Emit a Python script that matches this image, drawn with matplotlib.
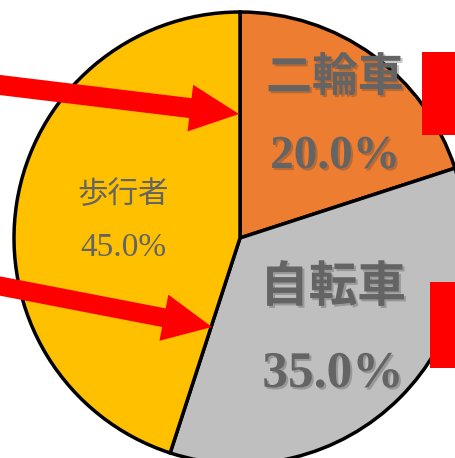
import matplotlib
matplotlib.use("Agg")
import matplotlib.pyplot as plt
import matplotlib.patheffects as pe
from matplotlib.patches import FancyArrow, Rectangle

plt.rcParams['font.family'] = ['Noto Sans CJK JP', 'DejaVu Sans']

# data
labels = ['二輪車', '自転車', '歩行者']
shares = [20.0, 35.0, 45.0]
colors = ['#ED7D31', '#BFBFBF', '#FFC000']

fig = plt.figure(figsize=(4.56, 4.58), dpi=100)
ax = fig.add_axes([0, 0, 1, 1])

# pie sits partly outside the canvas, like the cropped original
ax.pie(shares, colors=colors, startangle=90, counterclock=False,
       center=(240, 220), radius=226, frame=True,
       wedgeprops=dict(edgecolor='black', linewidth=2.5))
ax.set_xlim(0, 456)
ax.set_ylim(0, 458)
ax.set_aspect('equal')
ax.axis('off')

# soft drop shadow on the big labels
shadow = [pe.SimplePatchShadow(offset=(1.5, -1.5), shadow_rgbFace='#404040', alpha=0.3), pe.Normal()]
txt_col = '#646464'

# label positions (x, name y, pct y, name size, pct size, bold)
spots = [(335, 380, 301, 33, 34, True),
         (333, 171, 83, 35, 37, True),
         (123, 263, 210, 22, 24, False)]

for lab, val, (x, yl, yp, s1, s2, bold) in zip(labels, shares, spots):
    w = 'bold' if bold else 'normal'
    eff = shadow if bold else None
    ax.text(x, yl, lab, ha='center', va='center', fontsize=s1, fontweight=w,
            color=txt_col, path_effects=eff)
    ax.text(x, yp, f'{val:.1f}%', ha='center', va='center', fontsize=s2,
            fontweight=w, family='Liberation Serif', color=txt_col, path_effects=eff)

# red call-out arrows and boxes
ax.add_patch(FancyArrow(-10, 374.2, 249, -30.2, width=20, head_width=47, head_length=49,
                        length_includes_head=True, color='#FF0000', lw=0, zorder=5))
ax.add_patch(FancyArrow(-10, 173.9, 222, -42.9, width=19, head_width=47, head_length=49,
                        length_includes_head=True, color='#FF0000', lw=0, zorder=5))
ax.add_patch(Rectangle((422, 323), 40, 83, color='#FF0000', lw=0, zorder=5))
ax.add_patch(Rectangle((430, 90), 40, 86, color='#FF0000', lw=0, zorder=5))

fig.savefig('out.png', dpi=100)
